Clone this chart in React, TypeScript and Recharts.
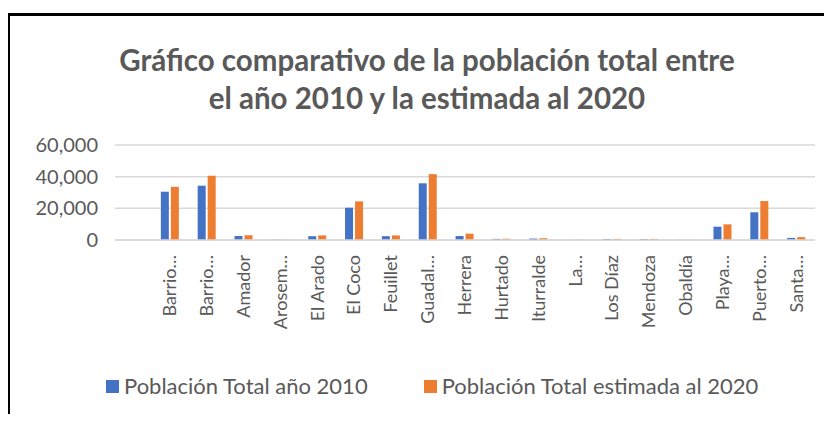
import { BarChart, Bar, XAxis, YAxis, CartesianGrid } from 'recharts';

const categories = [
  '',
  'Barrio…',
  'Barrio…',
  'Amador',
  'Arosem…',
  'El Arado',
  'El Coco',
  'Feuillet',
  'Guadal…',
  'Herrera',
  'Hurtado',
  'Iturralde',
  'La…',
  'Los Díaz',
  'Mendoza',
  'Obaldía',
  'Playa…',
  'Puerto…',
  'Santa…',
];

const pob2010 = [
  null, 30500, 34300, 2500, 150, 2400, 20400, 2400, 35800, 2500, 700, 900, 100, 600, 600, 100, 8400, 17500, 1300,
];
const pob2020 = [
  null, 33600, 40600, 3000, 200, 2900, 24400, 2900, 41600, 4000, 800, 1100, 120, 700, 700, 120, 9900, 24600, 1800,
];

const yTicks = [0, 20000, 40000, 60000];

const series = [
  { key: 'p2010', name: 'Población Total año 2010', color: '#4472C4' },
  { key: 'p2020', name: 'Población Total estimada al 2020', color: '#ED7D31' },
];

const data = categories.map((name, i) => ({
  name,
  p2010: pob2010[i],
  p2020: pob2020[i],
}));

const FONT = 'Lato, "Open Sans", sans-serif';
const TEXT = '#595959';

function CategoryTick({ x, y, payload }: any) {
  return (
    <g transform={`translate(${x},${y + 7})`}>
      <text
        x={0}
        y={0}
        dy={6}
        transform='rotate(-90)'
        textAnchor='end'
        fill={TEXT}
        fontSize={18}
        fontFamily={FONT}
      >
        {payload.value}
      </text>
    </g>
  );
}

export default function App() {
  return (
    <div
      style={{
        position: 'relative',
        width: 832,
        height: 422,
        margin: -8,
        background: '#fff',
        overflow: 'hidden',
        fontFamily: FONT,
      }}
    >
      <div
        style={{
          position: 'absolute',
          left: 7,
          top: 13,
          width: 840,
          height: 420,
          borderLeft: '3px solid #000',
          borderTop: '3px solid #000',
        }}
      />
      <div
        style={{
          position: 'absolute',
          left: 0,
          width: 854,
          top: 41,
          textAlign: 'center',
          color: TEXT,
          fontWeight: 700,
          fontSize: 29.5,
          lineHeight: '38px',
        }}
      >
        Gráfico comparativo de la población total entre
        <br />
        el año 2010 y la estimada al 2020
      </div>
      <div style={{ position: 'absolute', left: 0, top: 0 }}>
        <BarChart
          width={832}
          height={422}
          data={data}
          margin={{ top: 145, right: 17, left: 0, bottom: 52 }}
          barSize={8}
          barGap={2}
        >
          <CartesianGrid
            vertical={false}
            stroke='#d9d9d9'
            strokeWidth={1.5}
          />
          <XAxis
            dataKey='name'
            interval={0}
            height={130}
            tickLine={false}
            axisLine={{ stroke: '#d9d9d9', strokeWidth: 1.5 }}
            tick={<CategoryTick />}
          />
          <YAxis
            width={115}
            domain={[0, 60000]}
            ticks={yTicks}
            tickLine={false}
            axisLine={false}
            tickSize={0}
            tickMargin={17}
            tickFormatter={(v) => v.toLocaleString('en-US')}
            tick={{ fill: TEXT, fontSize: 20, fontFamily: FONT }}
          />
          {series.map((s) => (
            <Bar
              key={s.key}
              dataKey={s.key}
              name={s.name}
              fill={s.color}
              isAnimationActive={false}
            />
          ))}
        </BarChart>
      </div>
      <div
        style={{
          position: 'absolute',
          top: 373,
          left: 106,
          display: 'flex',
          gap: 56,
          color: TEXT,
          fontSize: 22,
          lineHeight: '26px',
        }}
      >
        {series.map((s) => (
          <div key={s.key} style={{ display: 'flex', alignItems: 'center' }}>
            <span
              style={{
                display: 'inline-block',
                width: 13,
                height: 13,
                background: s.color,
                marginRight: 5,
              }}
            />
            {s.name}
          </div>
        ))}
      </div>
    </div>
  );
}
